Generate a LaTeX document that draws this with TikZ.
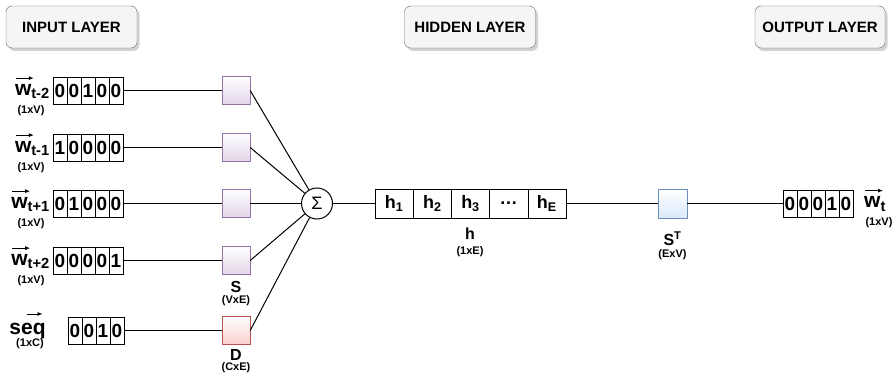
\documentclass[tikz,border=0pt]{standalone}
\usepackage{amsmath}
\usepackage{fontspec}
\setmainfont{Liberation Sans}
\usetikzlibrary{shadows,arrows.meta}

\definecolor{hdrfill}{HTML}{F5F5F5}
\definecolor{hdrline}{HTML}{666666}
\definecolor{embline}{HTML}{9673A6}
\definecolor{embfill}{HTML}{E1D5E7}
\definecolor{docline}{HTML}{B85450}
\definecolor{docfill}{HTML}{F8CECC}
\definecolor{outline}{HTML}{6C8EBF}
\definecolor{outfill}{HTML}{DAE8FC}

\tikzset{
  header/.style={draw=hdrline, fill=hdrfill, rounded corners=6pt, minimum width=131pt,
    minimum height=42pt, font=\bfseries\fontsize{15}{15}\selectfont,
    drop shadow={shadow xshift=2.5pt, shadow yshift=-3pt, fill=black!35}},
  cell/.style={draw, minimum width=14pt, minimum height=27pt, inner sep=0pt,
    font=\bfseries\fontsize{19}{19}\selectfont},
  hcell/.style={draw, minimum width=38.2pt, minimum height=29pt, inner sep=0pt,
    font=\bfseries\fontsize{18}{18}\selectfont},
  wsq/.style={draw=embline, top color=white, bottom color=embfill, minimum size=28pt, inner sep=0pt},
  dsq/.style={draw=docline, top color=white, bottom color=docfill, minimum size=28pt, inner sep=0pt},
  osq/.style={draw=outline, top color=white, bottom color=outfill, minimum size=29pt, inner sep=0pt},
  vlabel/.style={font=\bfseries\fontsize{21}{21}\selectfont, inner sep=0pt},
  vecarrow/.style={line width=0.8pt, -{Latex[length=5pt, width=4pt]}},
  dim/.style={font=\bfseries\fontsize{11}{11}\selectfont, inner sep=0pt},
  mlabel/.style={font=\bfseries\fontsize{16}{16}\selectfont, inner sep=0pt},
  wire/.style={line width=1pt}
}

\begin{document}
\begin{tikzpicture}[x=1pt, y=-1pt]
  \useasboundingbox (0,0) rectangle (894,377);

  % layer headers
  \node[header] (inhdr)  at (71.5,27) {INPUT LAYER};
  \node[header] (hidhdr) at (470,27)  {HIDDEN LAYER};
  \node[header, minimum width=130pt] (outhdr) at (820,27) {OUTPUT LAYER};

  % context words: one-hot vectors, labels and embedding squares
  \foreach \r/\y/\sub/\bits in {1/90.5/t-2/{0,0,1,0,0}, 2/147.5/t-1/{1,0,0,0,0},
                                3/203.5/t+1/{0,1,0,0,0}, 4/260.5/t+2/{0,0,0,0,1}} {
    \foreach \b [count=\i] in \bits
      \node[cell] (r\r c\i) at ({60+14*(\i-1)},\y) {\b};
    \node[vlabel, anchor=east] (w\r) at (50,\y+1) {w$_{\text{\sub}}$};
    \draw[vecarrow] ([xshift=1pt, yshift=6pt]w\r.north west) -- ([xshift=19pt, yshift=6pt]w\r.north west);
    \node[dim] (wdim\r) at (31,\y+20) {(1xV)};
    \node[wsq] (s\r) at (236,\y) {};
    \draw[wire] (r\r c5.east) -- (s\r.west);
  }

  % document vector
  \foreach \b [count=\i] in {0,0,1,0}
    \node[cell] (dc\i) at ({75+14*(\i-1)},330.5) {\b};
  \node[vlabel] (seq) at (27.5,331) {seq};
  \draw[vecarrow] ([xshift=-1pt, yshift=9pt]seq.north) -- ([xshift=15pt, yshift=9pt]seq.north);
  \node[dim] (seqdim) at (30,344) {(1xC)};
  \node[dsq] (d) at (236,330.5) {};
  \draw[wire] (dc4.east) -- (d.west);

  \node[mlabel] (slbl) at (236,287) {S};
  \node[dim] (sdim) at (236,301) {(VxE)};
  \node[mlabel] (dlbl) at (236,355) {D};
  \node[dim] (ddim) at (236,368) {(CxE)};

  % sum node
  \node[draw, circle, line width=1pt, minimum size=31pt, inner sep=0pt,
    font=\fontsize{18}{18}\selectfont] (sum) at (317,203.5) {Σ};
  \foreach \r in {1,...,4}
    \draw[wire] (s\r.east) -- (sum);
  \draw[wire] (d.east) -- (sum);

  % hidden vector
  \foreach \t [count=\i] in {h$_{\text{1}}$,h$_{\text{2}}$,h$_{\text{3}}$,\ldots,h$_{\text{E}}$}
    \node[hcell] (h\i) at ({394.1+38.2*(\i-1)},203.5) {\t};
  \node[mlabel] (hlbl) at (470,234) {h};
  \node[dim] (hdim) at (470,252) {(1xE)};
  \draw[wire] (sum) -- (h1.west);

  % output projection and predicted word
  \node[osq] (st) at (672.5,203.5) {};
  \node[mlabel] (stlbl) at (672.5,239) {S$^{\text{T}}$};
  \node[dim] (stdim) at (672.5,255) {(ExV)};
  \draw[wire] (h5.east) -- (st.west);

  \foreach \b [count=\i] in {0,0,0,1,0}
    \node[cell] (o\i) at ({790+14*(\i-1)},203.5) {\b};
  \draw[wire] (st.east) -- (o1.west);
  \node[vlabel, anchor=west] (wt) at (864,204) {w$_{\text{t}}$};
  \draw[vecarrow] ([xshift=1pt, yshift=6pt]wt.north west) -- ([xshift=19pt, yshift=6pt]wt.north west);
  \node[dim] (wtdim) at (879,223) {(1xV)};
\end{tikzpicture}
\end{document}
